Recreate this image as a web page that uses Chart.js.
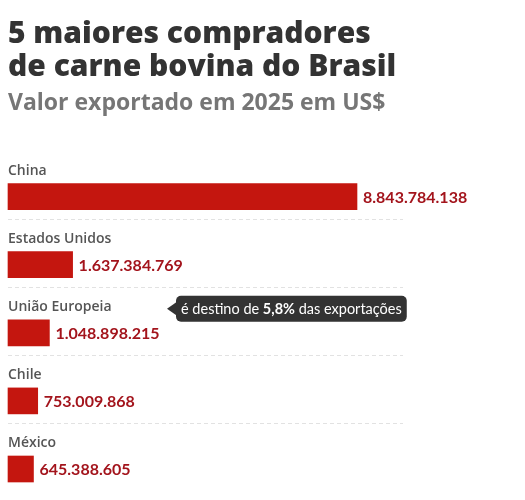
<!DOCTYPE html>
<html lang="pt-BR">
<head>
<meta charset="utf-8">
<title>5 maiores compradores de carne bovina do Brasil</title>
<script src="https://cdn.jsdelivr.net/npm/chart.js@4/dist/chart.umd.min.js"></script>
<style>
  html, body { margin: 0; padding: 0; background: #fff; }
  #wrap { position: relative; width: 525px; height: 500px; }
</style>
</head>
<body>
<div id="wrap"><canvas id="chart"></canvas></div>
<script>
// data
const countries = ['China', 'Estados Unidos', 'União Europeia', 'Chile', 'México'];
const exportValues = [8843784138, 1637384769, 1048898215, 753009868, 645388605];
const titleLines = ['5 maiores compradores', 'de carne bovina do Brasil'];
const subtitleText = 'Valor exportado em 2025 em US$';
const noteIndex = 2;
const noteParts = ['é destino de ', '5,8%', ' das exportações'];

const FONT = 'Lato, "Open Sans", sans-serif';
const HEAD_FONT = '"Open Sans", Lato, sans-serif';
const BAR_RED = '#c4160f';
const VALUE_RED = '#a3141c';
const LABEL_GRAY = '#555555';

// 8843784138 -> 8.843.784.138
function fmt(v) {
  return String(v).replace(/\B(?=(\d{3})+(?!\d))/g, '.');
}

// labels above bars, values after bars, dashed separators, note box
const rowDecor = {
  id: 'rowDecor',
  afterDatasetsDraw(chart) {
    const ctx = chart.ctx;
    const y = chart.scales.y;
    const left = chart.chartArea.left;
    const meta = chart.getDatasetMeta(0);

    ctx.save();
    countries.forEach((name, i) => {
      const cy = y.getPixelForValue(i);

      ctx.font = '600 14px ' + HEAD_FONT;
      ctx.fillStyle = LABEL_GRAY;
      ctx.textAlign = 'left';
      ctx.textBaseline = 'alphabetic';
      ctx.fillText(name, left, cy - 22);

      const barEnd = meta.data[i].x;
      ctx.font = 'bold 16px ' + FONT;
      ctx.fillStyle = VALUE_RED;
      ctx.textBaseline = 'middle';
      ctx.fillText(fmt(exportValues[i]), barEnd + 6, cy + 1);

      if (i < countries.length - 1) {
        ctx.strokeStyle = '#e2e2e2';
        ctx.lineWidth = 1;
        ctx.setLineDash([4, 3]);
        ctx.beginPath();
        ctx.moveTo(left, Math.round(cy + 22) + 0.5);
        ctx.lineTo(left + 395, Math.round(cy + 22) + 0.5);
        ctx.stroke();
        ctx.setLineDash([]);
      }
    });

    // note box next to one label
    const ny = y.getPixelForValue(noteIndex) - 24;
    let textW = 0;
    noteParts.forEach((part, k) => {
      ctx.font = (k === 1 ? 'bold ' : '') + '14.5px ' + FONT;
      textW += ctx.measureText(part).width;
    });
    const bx = left + 168, bw = textW + 10, bh = 26, r = 5;
    ctx.fillStyle = '#333333';
    ctx.beginPath();
    ctx.roundRect(bx, ny - bh / 2, bw, bh, r);
    ctx.fill();
    ctx.beginPath();
    ctx.moveTo(bx + 1, ny - 7);
    ctx.lineTo(bx - 9, ny);
    ctx.lineTo(bx + 1, ny + 7);
    ctx.closePath();
    ctx.fill();

    ctx.fillStyle = '#ffffff';
    ctx.textBaseline = 'middle';
    let tx = bx + 5;
    noteParts.forEach((part, k) => {
      ctx.font = (k === 1 ? 'bold ' : '') + '14.5px ' + FONT;
      ctx.fillText(part, tx, ny + 1);
      tx += ctx.measureText(part).width;
    });
    ctx.restore();
  }
};

new Chart(document.getElementById('chart'), {
  type: 'bar',
  data: {
    labels: countries,
    datasets: [{
      data: exportValues,
      backgroundColor: BAR_RED,
      borderWidth: 0,
      barThickness: 26,
      clip: false
    }]
  },
  options: {
    indexAxis: 'y',
    responsive: true,
    maintainAspectRatio: false,
    animation: false,
    events: [],
    layout: { padding: { left: 8, right: 4, top: 0, bottom: 31 } },
    scales: {
      x: { type: 'linear', min: 0, max: 13000000000, display: false },
      y: { type: 'category', offset: false, display: false }
    },
    plugins: {
      legend: { display: false },
      tooltip: { enabled: false },
      title: {
        display: true,
        text: titleLines,
        align: 'start',
        color: '#333333',
        font: { family: HEAD_FONT, size: 30, weight: 800, lineHeight: 1.1 },
        padding: { top: 18, bottom: 0 }
      },
      subtitle: {
        display: true,
        text: subtitleText,
        align: 'start',
        color: '#767676',
        font: { family: HEAD_FONT, size: 23, weight: 700, lineHeight: 1.2 },
        padding: { top: 6, bottom: 79 }
      }
    }
  },
  plugins: [rowDecor]
});
</script>
</body>
</html>
